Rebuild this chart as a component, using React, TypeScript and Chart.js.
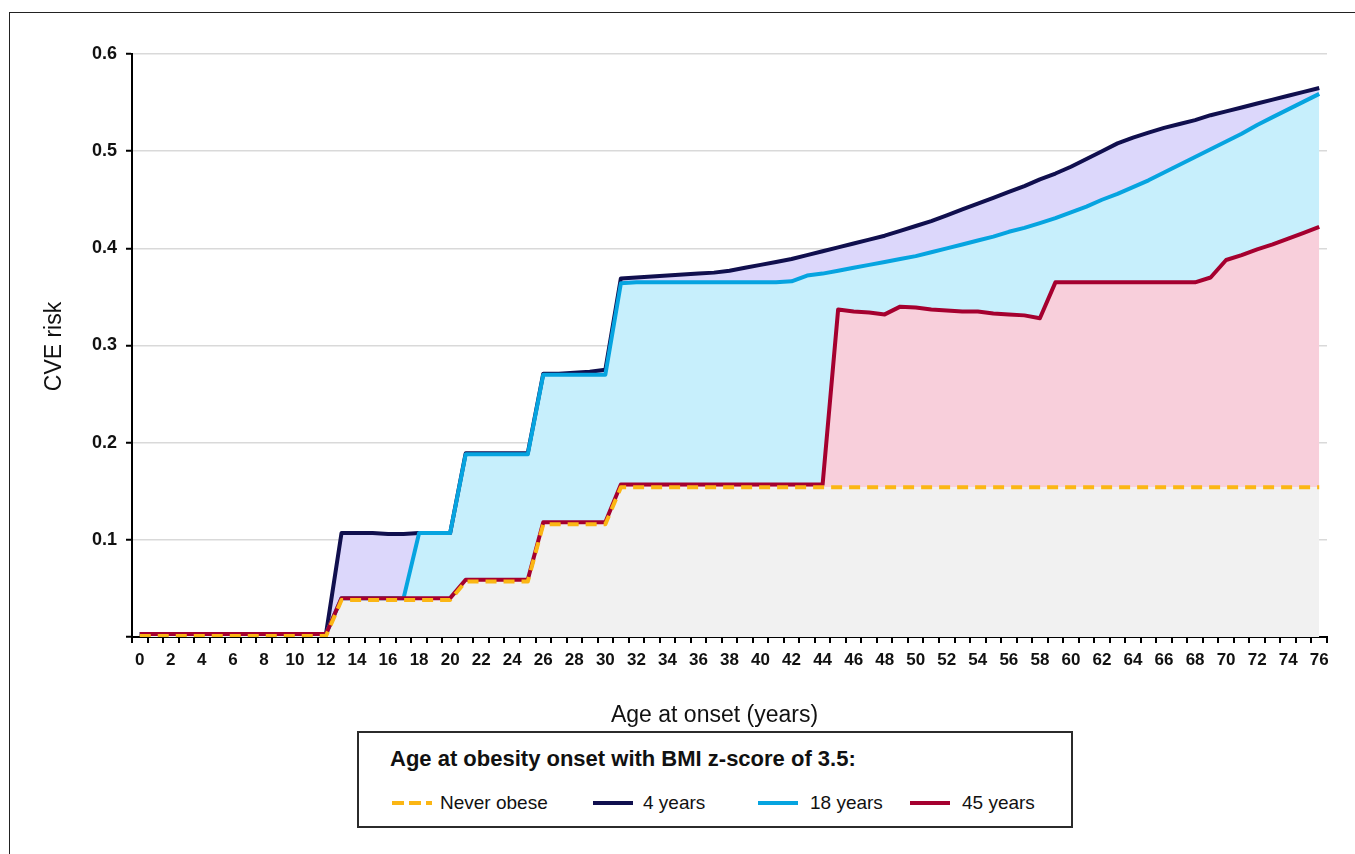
import React, { useEffect, useRef } from "react";
import { Chart, registerables } from "chart.js";

Chart.register(...registerables);

// Age at onset (years), one category per year
const AGES = [
  "0", "1", "2", "3", "4", "5", "6", "7", "8", "9", "10", "11", "12", "13", "14", "15", "16", "17", "18", "19",
  "20", "21", "22", "23", "24", "25", "26", "27", "28", "29", "30", "31", "32", "33", "34", "35", "36", "37", "38", "39",
  "40", "41", "42", "43", "44", "45", "46", "47", "48", "49", "50", "51", "52", "53", "54", "55", "56", "57", "58", "59",
  "60", "61", "62", "63", "64", "65", "66", "67", "68", "69", "70", "71", "72", "73", "74", "75", "76",
];

// CVE risk by age, never obese
const NEVER_OBESE = [
  0.001, 0.001, 0.001, 0.001, 0.001, 0.001, 0.001, 0.001, 0.001, 0.001, 0.001, 0.001, 0.001,
  0.038, 0.038, 0.038, 0.038, 0.038, 0.038, 0.038, 0.038,
  0.057, 0.057, 0.057, 0.057, 0.057,
  0.116, 0.116, 0.116, 0.116, 0.116,
  0.154, 0.154, 0.154, 0.154, 0.154, 0.154, 0.154, 0.154, 0.154, 0.154, 0.154, 0.154, 0.154, 0.154,
  0.154, 0.154, 0.154, 0.154, 0.154, 0.154, 0.154, 0.154, 0.154, 0.154, 0.154, 0.154, 0.154, 0.154,
  0.154, 0.154, 0.154, 0.154, 0.154, 0.154, 0.154, 0.154, 0.154, 0.154, 0.154, 0.154, 0.154, 0.154,
  0.154, 0.154, 0.154, 0.154,
];

// CVE risk by age, obesity onset at 4 years
const ONSET_4 = [
  0.003, 0.003, 0.003, 0.003, 0.003, 0.003, 0.003, 0.003, 0.003, 0.003, 0.003, 0.003, 0.003,
  0.107, 0.107, 0.107, 0.106, 0.106, 0.107, 0.107, 0.107,
  0.189, 0.189, 0.189, 0.189, 0.189,
  0.271, 0.271, 0.272, 0.273, 0.275,
  0.369, 0.370, 0.371, 0.372, 0.373, 0.374, 0.375, 0.377, 0.380, 0.383, 0.386, 0.389, 0.393, 0.397,
  0.401, 0.405, 0.409, 0.413, 0.418, 0.423, 0.428, 0.434, 0.440, 0.446, 0.452, 0.458, 0.464, 0.471,
  0.477, 0.484, 0.492, 0.500, 0.508, 0.514, 0.519, 0.524, 0.528, 0.532, 0.537, 0.541, 0.545, 0.549,
  0.553, 0.557, 0.561, 0.565,
];

// CVE risk by age, obesity onset at 18 years
const ONSET_18 = [
  0.003, 0.003, 0.003, 0.003, 0.003, 0.003, 0.003, 0.003, 0.003, 0.003, 0.003, 0.003, 0.003,
  0.040, 0.040, 0.040, 0.040, 0.040,
  0.107, 0.107, 0.107,
  0.188, 0.188, 0.188, 0.188, 0.188,
  0.270, 0.270, 0.270, 0.270, 0.270,
  0.364, 0.365, 0.365, 0.365, 0.365, 0.365, 0.365, 0.365, 0.365, 0.365, 0.365, 0.366, 0.372, 0.374,
  0.377, 0.380, 0.383, 0.386, 0.389, 0.392, 0.396, 0.400, 0.404, 0.408, 0.412, 0.417, 0.421, 0.426,
  0.431, 0.437, 0.443, 0.450, 0.456, 0.463, 0.470, 0.478, 0.486, 0.494, 0.502, 0.510, 0.518, 0.527,
  0.535, 0.543, 0.551, 0.559,
];

// CVE risk by age, obesity onset at 45 years
const ONSET_45 = [
  0.003, 0.003, 0.003, 0.003, 0.003, 0.003, 0.003, 0.003, 0.003, 0.003, 0.003, 0.003, 0.003,
  0.040, 0.040, 0.040, 0.040, 0.040, 0.040, 0.040, 0.040,
  0.059, 0.059, 0.059, 0.059, 0.059,
  0.118, 0.118, 0.118, 0.118, 0.118,
  0.157, 0.157, 0.157, 0.157, 0.157, 0.157, 0.157, 0.157, 0.157, 0.157, 0.157, 0.157, 0.157, 0.157,
  0.337, 0.335, 0.334, 0.332, 0.340, 0.339, 0.337, 0.336, 0.335, 0.335, 0.333, 0.332, 0.331, 0.328,
  0.365, 0.365, 0.365, 0.365, 0.365, 0.365, 0.365, 0.365, 0.365, 0.365, 0.370, 0.388, 0.393, 0.399,
  0.404, 0.410, 0.416, 0.422,
];

const SERIES_NAMES = ["Never obese", "4 years", "18 years", "45 years"];
const Y_TICK_STEP = 0.1;
const Y_MAX = 0.6;

const X_TITLE = "Age at onset (years)";
const Y_TITLE = "CVE risk";
const LEGEND_TITLE = "Age at obesity onset with BMI z-score of 3.5:";

const FONT = "'Liberation Sans', Arial, Helvetica, sans-serif";
const TEXT = "#111111";

const YELLOW = "#fbb614";
const NAVY = "#100f4e";
const CYAN = "#06a4e0";
const RED = "#a5002f";

const GREY_FILL = "#f1f1f1";
const PINK_FILL = "#f8cfdb";
const BLUE_FILL = "#c7effc";
const PURPLE_FILL = "#dcd7fb";

const LINE_WIDTH = 4;

const CANVAS_W = 1355;
const CANVAS_H = 740;

// Axis titles, placed relative to the plot area
const axisTitles = {
  id: "axisTitles",
  afterDraw(chart: any) {
    const { ctx, chartArea } = chart;
    ctx.save();
    ctx.fillStyle = TEXT;
    ctx.font = `23px ${FONT}`;
    ctx.textAlign = "center";
    ctx.textBaseline = "middle";
    ctx.fillText(X_TITLE, (chartArea.left + chartArea.right) / 2 - 15, chartArea.bottom + 79);
    ctx.translate(55, (chartArea.top + chartArea.bottom) / 2 + 1);
    ctx.rotate(-Math.PI / 2);
    ctx.fillText(Y_TITLE, 0, 0);
    ctx.restore();
  },
};

function LegendSample({ color, dashed }: { color: string; dashed?: boolean }) {
  return (
    <svg width={40} height={8} style={{ display: "block" }}>
      <line
        x1={0}
        y1={4}
        x2={40}
        y2={4}
        stroke={color}
        strokeWidth={4}
        strokeDasharray={dashed ? "12 5" : undefined}
      />
    </svg>
  );
}

function Legend() {
  const items = [
    { name: SERIES_NAMES[0], color: YELLOW, dashed: true, lineX: 33, textX: 81 },
    { name: SERIES_NAMES[1], color: NAVY, dashed: false, lineX: 234, textX: 284 },
    { name: SERIES_NAMES[2], color: CYAN, dashed: false, lineX: 399, textX: 451 },
    { name: SERIES_NAMES[3], color: RED, dashed: false, lineX: 551, textX: 603 },
  ];
  return (
    <div
      style={{
        position: "absolute",
        left: 357,
        top: 731,
        width: 716,
        height: 97,
        boxSizing: "border-box",
        border: "2px solid #2b2b2b",
        background: "#ffffff",
        fontFamily: FONT,
        color: TEXT,
      }}
    >
      <div
        style={{
          position: "absolute",
          left: 31,
          top: 13,
          fontSize: 22,
          fontWeight: "bold",
          lineHeight: "26px",
          whiteSpace: "nowrap",
        }}
      >
        {LEGEND_TITLE}
      </div>
      {items.map((it) => (
        <React.Fragment key={it.name}>
          <div style={{ position: "absolute", left: it.lineX, top: 66 }}>
            <LegendSample color={it.color} dashed={it.dashed} />
          </div>
          <div
            style={{
              position: "absolute",
              left: it.textX,
              top: 59,
              fontSize: 19,
              lineHeight: "22px",
              whiteSpace: "nowrap",
            }}
          >
            {it.name}
          </div>
        </React.Fragment>
      ))}
    </div>
  );
}

export default function App() {
  const canvasRef = useRef<HTMLCanvasElement | null>(null);

  useEffect(() => {
    const canvas = canvasRef.current;
    if (!canvas) return;
    const chart = new Chart(canvas, {
      type: "line",
      data: {
        labels: AGES,
        datasets: [
          {
            label: SERIES_NAMES[0],
            data: NEVER_OBESE,
            borderColor: YELLOW,
            borderWidth: LINE_WIDTH,
            borderDash: [11, 7],
            backgroundColor: GREY_FILL,
            fill: "origin",
          },
          {
            label: SERIES_NAMES[3],
            data: ONSET_45,
            borderColor: RED,
            borderWidth: LINE_WIDTH,
            backgroundColor: PINK_FILL,
            fill: "-1",
          },
          {
            label: SERIES_NAMES[2],
            data: ONSET_18,
            borderColor: CYAN,
            borderWidth: LINE_WIDTH,
            backgroundColor: BLUE_FILL,
            fill: "-1",
          },
          {
            label: SERIES_NAMES[1],
            data: ONSET_4,
            borderColor: NAVY,
            borderWidth: LINE_WIDTH,
            backgroundColor: PURPLE_FILL,
            fill: "-1",
          },
        ],
      },
      options: {
        animation: false,
        responsive: false,
        devicePixelRatio: 1,
        layout: { padding: { left: 0, top: 54, right: 28, bottom: 63 } },
        elements: {
          point: { radius: 0, hoverRadius: 0 },
          line: { tension: 0, borderJoinStyle: "round", borderCapStyle: "butt" },
        },
        plugins: {
          legend: { display: false },
          tooltip: { enabled: false },
          filler: { drawTime: "beforeDatasetsDraw" },
        },
        scales: {
          x: {
            type: "category",
            offset: true,
            grid: {
              offset: true,
              drawOnChartArea: false,
              drawTicks: true,
              tickLength: 6,
              color: "#000000",
              tickColor: "#000000",
              lineWidth: 2,
            },
            border: { display: true, color: "#000000", width: 2 },
            ticks: {
              autoSkip: false,
              maxRotation: 0,
              minRotation: 0,
              padding: 7,
              color: TEXT,
              font: { family: FONT, size: 17, weight: "bold" },
              callback(this: any, value: any, index: number) {
                return index % 2 === 0 ? this.getLabelForValue(value) : "";
              },
            },
            afterFit(scale: any) {
              scale.height = 40;
            },
          },
          y: {
            min: 0,
            max: Y_MAX,
            grid: {
              color: "#d9d9d9",
              lineWidth: 1.5,
              tickColor: "#000000",
              tickLength: 6,
              tickWidth: 2,
            },
            border: { display: true, color: "#000000", width: 2 },
            ticks: {
              stepSize: Y_TICK_STEP,
              padding: 9,
              color: TEXT,
              font: { family: FONT, size: 18, weight: "bold" },
              callback(value: any) {
                const v = Number(value);
                return v === 0 ? "" : v.toFixed(1);
              },
            },
            afterFit(scale: any) {
              scale.width = 132;
            },
          },
        },
      },
      plugins: [axisTitles],
    });
    return () => chart.destroy();
  }, []);

  return (
    <div style={{ position: "fixed", left: 0, top: 0, width: CANVAS_W, height: 854, overflow: "hidden", background: "#ffffff" }}>
      <div
        style={{
          position: "absolute",
          left: 9,
          top: 12,
          right: 0,
          bottom: 0,
          borderTop: "1.5px solid #222222",
          borderLeft: "1.5px solid #222222",
        }}
      />
      <canvas
        ref={canvasRef}
        width={CANVAS_W}
        height={CANVAS_H}
        style={{ position: "absolute", left: 0, top: 0, display: "block", width: CANVAS_W, height: CANVAS_H }}
      />
      <Legend />
    </div>
  );
}
